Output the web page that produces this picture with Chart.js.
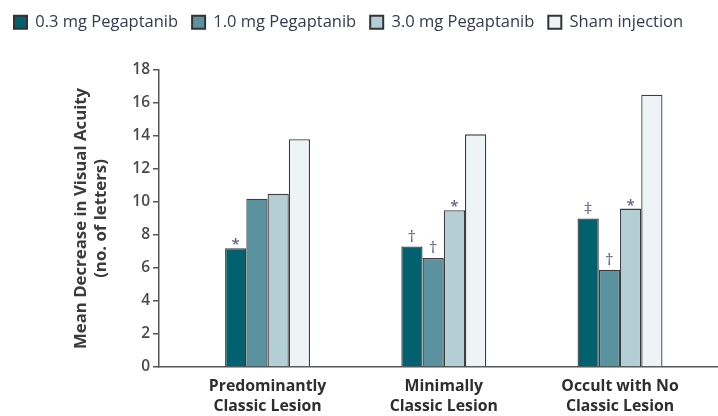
<!DOCTYPE html>
<html>
<head>
<meta charset="utf-8">
<script src="https://cdn.jsdelivr.net/npm/chart.js@4.4.1/dist/chart.umd.min.js"></script>
<style>
  html, body { margin: 0; padding: 0; background: #ffffff; }
  #wrap { width: 718px; height: 416px; }
</style>
</head>
<body>
<div id="wrap"><canvas id="chart" width="718" height="416"></canvas></div>
<script>
// Lesion subtypes (x-axis groups), each label split into its two lines
const categories = [
  ['Predominantly', 'Classic Lesion'],
  ['Minimally', 'Classic Lesion'],
  ['Occult with No', 'Classic Lesion']
];

const seriesNames = ['0.3 mg Pegaptanib', '1.0 mg Pegaptanib', '3.0 mg Pegaptanib', 'Sham injection'];

// Mean decrease in visual acuity (no. of letters)
const dose03 = [7.2, 7.3, 9.0];
const dose10 = [10.2, 6.6, 5.9];
const dose30 = [10.5, 9.5, 9.6];
const sham   = [13.8, 14.1, 16.5];

// Significance markers printed above each bar
const marks03   = ['*', '\u2020', '\u2021'];
const marks10   = ['', '\u2020', '\u2020'];
const marks30   = ['', '*', '*'];
const marksSham = ['', '', ''];

const yTicks = [0, 2, 4, 6, 8, 10, 12, 14, 16, 18];

const seriesValues = [dose03, dose10, dose30, sham];
const seriesMarks = [marks03, marks10, marks30, marksSham];
const seriesColors = ['#03606f', '#5a929f', '#b4ced6', '#eef3f6'];

const FONT = "'Open Sans', 'Noto Sans', sans-serif";
const AXIS_GREY = '#555555';

// Fixed outer frame so the plot area lands where the axes belong
const LEGEND_HEIGHT = 70;
const Y_AXIS_WIDTH = 159;
const X_AXIS_HEIGHT = 49;

const datasets = seriesValues.map((vals, i) => ({
  label: seriesNames[i],
  data: vals.map((v, j) => ({ x: j, y: v })),
  backgroundColor: seriesColors[i],
  borderColor: '#3d3d3d',
  borderWidth: 1.3,
  categoryPercentage: 0.482,
  barPercentage: 1.0
}));

const legendFrame = {
  id: 'legendFrame',
  beforeUpdate(chart) {
    const lg = chart.legend;
    if (lg && !lg.__framed) {
      const baseFit = lg.fit.bind(lg);
      lg.fit = function () { baseFit(); this.height = LEGEND_HEIGHT; };
      lg.__framed = true;
    }
  }
};

const markerLabels = {
  id: 'markerLabels',
  afterDatasetsDraw(chart) {
    const ctx = chart.ctx;
    ctx.save();
    ctx.fillStyle = '#675c7e';
    ctx.textAlign = 'center';
    ctx.textBaseline = 'alphabetic';
    seriesMarks.forEach((marks, i) => {
      const meta = chart.getDatasetMeta(i);
      meta.data.forEach((bar, j) => {
        const m = marks[j];
        if (!m) return;
        if (m === '*') {
          ctx.font = `600 15px ${FONT}`;
          ctx.fillText(m, bar.x, bar.y + 1);
        } else {
          ctx.font = `400 17px ${FONT}`;
          ctx.fillText(m, bar.x, bar.y - 5);
        }
      });
    });
    ctx.restore();
  }
};

new Chart(document.getElementById('chart'), {
  type: 'bar',
  data: { datasets },
  options: {
    responsive: false,
    devicePixelRatio: 1,
    animation: false,
    layout: { padding: { left: 0, right: 0, top: 0, bottom: 0 } },
    plugins: {
      tooltip: { enabled: false },
      legend: {
        position: 'top',
        align: 'start',
        labels: {
          boxWidth: 13,
          boxHeight: 13,
          padding: 14,
          color: '#343a4f',
          font: { family: FONT, size: 16.5, weight: '400' },
          generateLabels(chart) {
            return Chart.defaults.plugins.legend.labels.generateLabels(chart)
              .map(item => Object.assign(item, { lineWidth: 2, strokeStyle: '#333333' }));
          }
        }
      }
    },
    scales: {
      x: {
        type: 'linear',
        offset: false,
        min: -0.616,
        max: 2.556,
        grid: { display: false, drawTicks: false },
        border: { display: true, color: AXIS_GREY, width: 1.5 },
        afterBuildTicks(scale) { scale.ticks = categories.map((_, i) => ({ value: i })); },
        afterFit(scale) { scale.height = X_AXIS_HEIGHT; },
        ticks: {
          autoSkip: false,
          maxRotation: 0,
          padding: 9,
          color: '#2e2e2e',
          font: { family: FONT, size: 15.8, weight: '700', lineHeight: '20px' },
          callback: (v) => categories[v]
        }
      },
      y: {
        min: 0,
        max: 18,
        afterBuildTicks(scale) { scale.ticks = yTicks.map(v => ({ value: v })); },
        afterFit(scale) { scale.width = Y_AXIS_WIDTH; },
        grid: { display: true, drawOnChartArea: false, drawTicks: true, tickLength: 6, color: AXIS_GREY, lineWidth: 1.5 },
        border: { display: true, color: AXIS_GREY, width: 1.5 },
        ticks: {
          padding: 3,
          color: '#4a4a4a',
          font: { family: FONT, size: 15.5, weight: '600' }
        },
        title: {
          display: true,
          text: ['Mean Decrease in Visual Acuity', '(no. of letters)'],
          color: '#3a3a3a',
          padding: { top: 71, bottom: 0 },
          font: { family: FONT, size: 16.8, weight: '700', lineHeight: '20px' }
        }
      }
    }
  },
  plugins: [legendFrame, markerLabels]
});
</script>
</body>
</html>
